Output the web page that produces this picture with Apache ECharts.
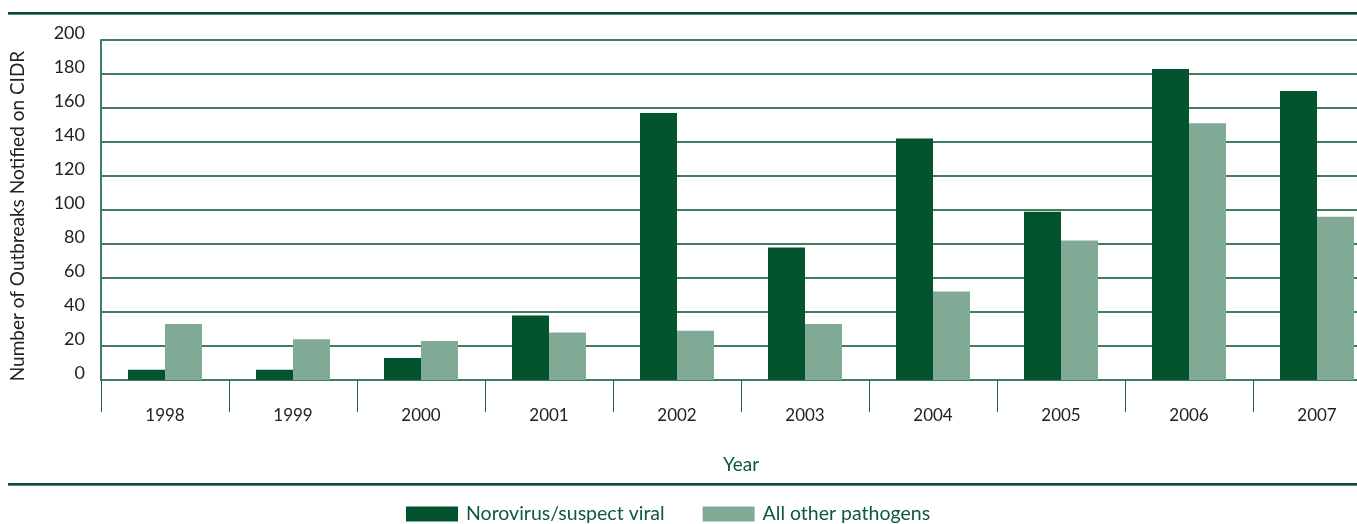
<!DOCTYPE html>
<html>
<head>
<meta charset="utf-8">
<script src="https://cdn.jsdelivr.net/npm/echarts@6/dist/echarts.min.js"></script>
<style>
  html, body { margin: 0; padding: 0; background: #ffffff; overflow: hidden; }
  /* canvas is wider than the page so the last year runs off the right edge */
  #chart { width: 1390px; height: 524px; }
</style>
</head>
<body>
<div id="chart"></div>
<script>
// Outbreaks notified on CIDR by year
const years = ['1998', '1999', '2000', '2001', '2002', '2003', '2004', '2005', '2006', '2007'];
const norovirus = [6, 6, 13, 38, 157, 78, 142, 99, 183, 170];
const otherPathogens = [33, 24, 23, 28, 29, 33, 52, 82, 151, 96];
const yTicks = [0, 20, 40, 60, 80, 100, 120, 140, 160, 180, 200];

const DARK = '#03532f';
const LIGHT = '#80a996';
const GRID = '#3f7d60';
const TEXT_GREEN = '#0d5a38';
const FONT = 'Lato, "Noto Sans", sans-serif';

const chart = echarts.init(document.getElementById('chart'), null, { renderer: 'canvas' });

chart.setOption({
  animation: false,
  backgroundColor: '#ffffff',
  textStyle: { fontFamily: FONT },
  tooltip: { show: false },
  grid: { left: 101, right: 9, top: 40, bottom: 144, containLabel: false },
  legend: {
    left: 401,
    top: 499,
    itemWidth: 52,
    itemHeight: 15,
    itemGap: 38,
    icon: 'rect',
    textStyle: { color: TEXT_GREEN, fontSize: 19.5, fontFamily: FONT, padding: [0, 0, 0, 3] },
    data: ['Norovirus/suspect viral', 'All other pathogens']
  },
  xAxis: {
    type: 'category',
    data: years,
    name: 'Year',
    nameLocation: 'middle',
    nameGap: 75,
    nameTextStyle: { color: TEXT_GREEN, fontSize: 19, fontFamily: FONT },
    axisLine: { show: true, lineStyle: { color: GRID, width: 2 } },
    axisTick: { show: true, length: 32, lineStyle: { color: '#1e6645', width: 1 } },
    axisLabel: { color: '#222222', fontSize: 17, margin: 27, fontFamily: FONT },
    splitLine: { show: false }
  },
  yAxis: {
    type: 'value',
    min: yTicks[0],
    max: yTicks[yTicks.length - 1],
    interval: 20,
    name: 'Number of Outbreaks Notified on CIDR',
    nameLocation: 'middle',
    nameGap: 74,
    nameTextStyle: { color: '#222222', fontSize: 19, fontFamily: FONT, padding: [0, 12, 0, 0] },
    axisLine: { show: true, lineStyle: { color: GRID, width: 2 } },
    axisTick: { show: false },
    axisLabel: {
      color: '#222222', fontSize: 18, margin: 16, fontFamily: FONT,
      verticalAlign: 'bottom', lineHeight: 14
    },
    splitLine: { show: true, lineStyle: { color: GRID, width: 2 } }
  },
  series: [
    {
      name: 'Norovirus/suspect viral',
      type: 'bar',
      data: norovirus,
      barWidth: 37,
      barGap: '0%',
      itemStyle: { color: DARK },
      z: 3
    },
    {
      name: 'All other pathogens',
      type: 'bar',
      data: otherPathogens,
      barWidth: 37,
      barGap: '0%',
      itemStyle: { color: LIGHT },
      z: 3
    }
  ],
  graphic: [
    // top and bottom rules framing the figure
    { type: 'rect', shape: { x: 8, y: 12, width: 1382, height: 2 }, style: { fill: '#0b4d33' }, silent: true },
    { type: 'rect', shape: { x: 8, y: 14, width: 1382, height: 1 }, style: { fill: '#4f8c6e' }, silent: true },
    { type: 'rect', shape: { x: 8, y: 483, width: 1382, height: 2 }, style: { fill: '#0b4d33' }, silent: true },
    { type: 'rect', shape: { x: 8, y: 485, width: 1382, height: 1 }, style: { fill: '#4f8c6e' }, silent: true }
  ]
});
</script>
</body>
</html>
